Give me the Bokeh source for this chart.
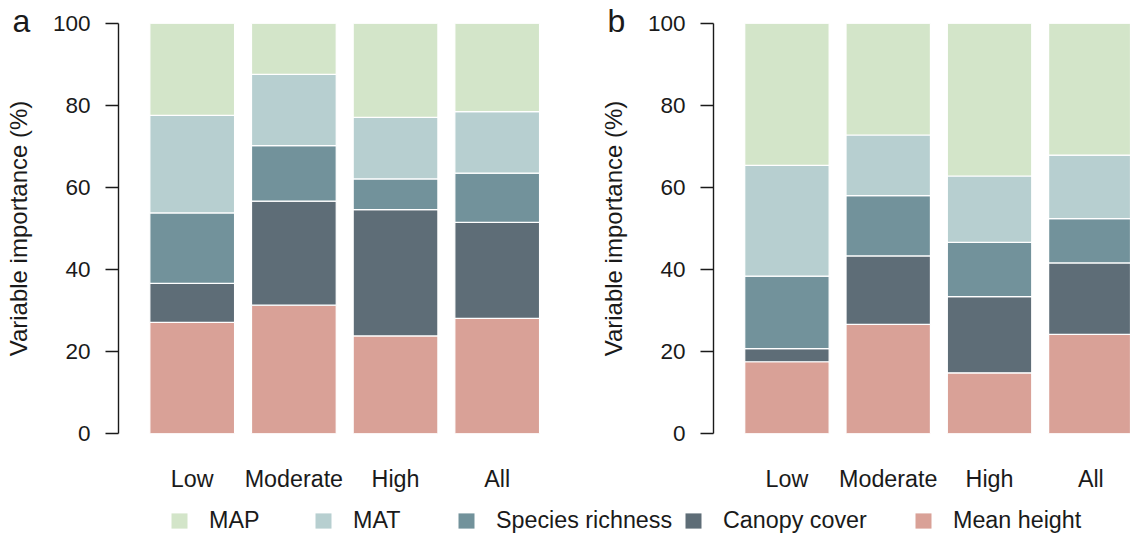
from bokeh.plotting import figure
from bokeh.models import (Range1d, FixedTicker, ColumnDataSource, Legend,
                          LegendItem, Title)
from bokeh.layouts import column, row
from bokeh.embed import file_html
from bokeh.resources import INLINE

# ---------------- data ----------------
categories = ["Low", "Moderate", "High", "All"]
variables = ["Mean height", "Canopy cover", "Species richness", "MAT", "MAP"]  # bottom -> top

a_mean_height = [27.1, 31.3, 23.8, 28.1]
a_canopy_cover = [9.5, 25.4, 30.8, 23.4]
a_species_richness = [17.2, 13.5, 7.5, 12.0]
a_mat = [23.8, 17.4, 15.0, 15.0]
a_map = [22.4, 12.4, 22.9, 21.5]

b_mean_height = [17.5, 26.6, 14.8, 24.2]
b_canopy_cover = [3.2, 16.7, 18.6, 17.4]
b_species_richness = [17.7, 14.7, 13.2, 10.8]
b_mat = [27.0, 14.8, 16.2, 15.5]
b_map = [34.6, 27.2, 37.2, 32.1]

y_ticks = [0, 20, 40, 60, 80, 100]
y_label = "Variable importance (%)"

colors = {
    "MAP": "#d3e5c9",
    "MAT": "#b7cfd0",
    "Species richness": "#72929b",
    "Canopy cover": "#5e6d77",
    "Mean height": "#d9a197",
}
legend_order = ["MAP", "MAT", "Species richness", "Canopy cover", "Mean height"]

FONT = "Liberation Sans"
FS_TICK = "22.5px"
FS_CAT = "23.3px"
FS_AXL = "24px"
TXT = "#1a1a1a"

# bar geometry (R barplot style: width 1, space 0.2)
centers = [0.7 + 1.2 * i for i in range(len(categories))]


def make_panel(series, letter, width, mb_left, mb_right, x_end):
    keys = ["mh", "cc", "sr", "mat", "map"]
    data = dict(x=centers)
    for k, s in zip(keys, series):
        data[k] = s
    src = ColumnDataSource(data)
    p = figure(width=width, height=495,
               x_range=Range1d(-0.17, x_end), y_range=Range1d(0, 100),
               output_backend="svg", toolbar_location=None,
               min_border_left=mb_left, min_border_right=mb_right,
               min_border_top=23, min_border_bottom=62,
               outline_line_color=None, background_fill_color="white")
    p.title = Title(text=letter, align="left", offset=-106, standoff=-30,
                    vertical_align="bottom", text_font=FONT,
                    text_font_size="32px", text_font_style="normal",
                    text_color=TXT)
    p.vbar_stack(keys, x="x", width=1.0, source=src,
                 color=[colors[v] for v in variables],
                 line_color="white", line_width=1.2)
    p.xgrid.visible = False
    p.ygrid.visible = False

    # y axis
    ya = p.yaxis[0]
    ya.ticker = FixedTicker(ticks=y_ticks)
    ya.minor_tick_line_color = None
    ya.major_tick_in = 0
    ya.major_tick_out = 13
    ya.major_label_standoff = 15
    ya.axis_line_width = 1.4
    ya.major_tick_line_width = 1.4
    ya.axis_line_color = TXT
    ya.major_tick_line_color = TXT
    ya.major_label_text_font = FONT
    ya.major_label_text_font_size = FS_TICK
    ya.major_label_text_color = TXT
    ya.axis_label = y_label
    ya.axis_label_text_font = FONT
    ya.axis_label_text_font_size = FS_AXL
    ya.axis_label_text_font_style = "normal"
    ya.axis_label_text_color = TXT
    ya.axis_label_standoff = 18

    # x axis (category labels only)
    xa = p.xaxis[0]
    xa.ticker = FixedTicker(ticks=centers)
    xa.major_label_overrides = {c: lab for c, lab in zip(centers, categories)}
    xa.axis_line_color = None
    xa.major_tick_line_color = None
    xa.minor_tick_line_color = None
    xa.major_tick_out = 0
    xa.major_tick_in = 0
    xa.major_label_standoff = 32
    xa.major_label_text_font = FONT
    xa.major_label_text_font_size = FS_CAT
    xa.major_label_text_color = TXT
    return p


pa = make_panel([a_mean_height, a_canopy_cover, a_species_richness, a_mat, a_map],
                "a", 596, 118, 40, 5.0)
pb = make_panel([b_mean_height, b_canopy_cover, b_species_richness, b_mat, b_map],
                "b", 534, 115, 0, 4.77)

# legend strip
pl = figure(width=1130, height=40, x_range=Range1d(0, 1130), y_range=Range1d(0, 40),
            x_axis_type=None, y_axis_type=None, min_border=0,
            output_backend="svg", toolbar_location=None, outline_line_color=None)
pl.xgrid.visible = False
pl.ygrid.visible = False
legend_x = [169, 313, 456, 683, 913]
for name, lx in zip(legend_order, legend_x):
    r = pl.vbar(x=[-5000], top=[0], width=1, fill_color=colors[name], line_color=None)
    lg = Legend(items=[LegendItem(label=name, renderers=[r])], location=(lx, 1),
                padding=0, margin=0, border_line_color=None, background_fill_alpha=0,
                glyph_width=20, glyph_height=19, label_standoff=20,
                label_text_font=FONT, label_text_font_size=FS_CAT,
                label_text_color=TXT)
    pl.add_layout(lg)

layout = column(row(pa, pb), pl, spacing=0)
open("out.html", "w").write(file_html(layout, INLINE))
